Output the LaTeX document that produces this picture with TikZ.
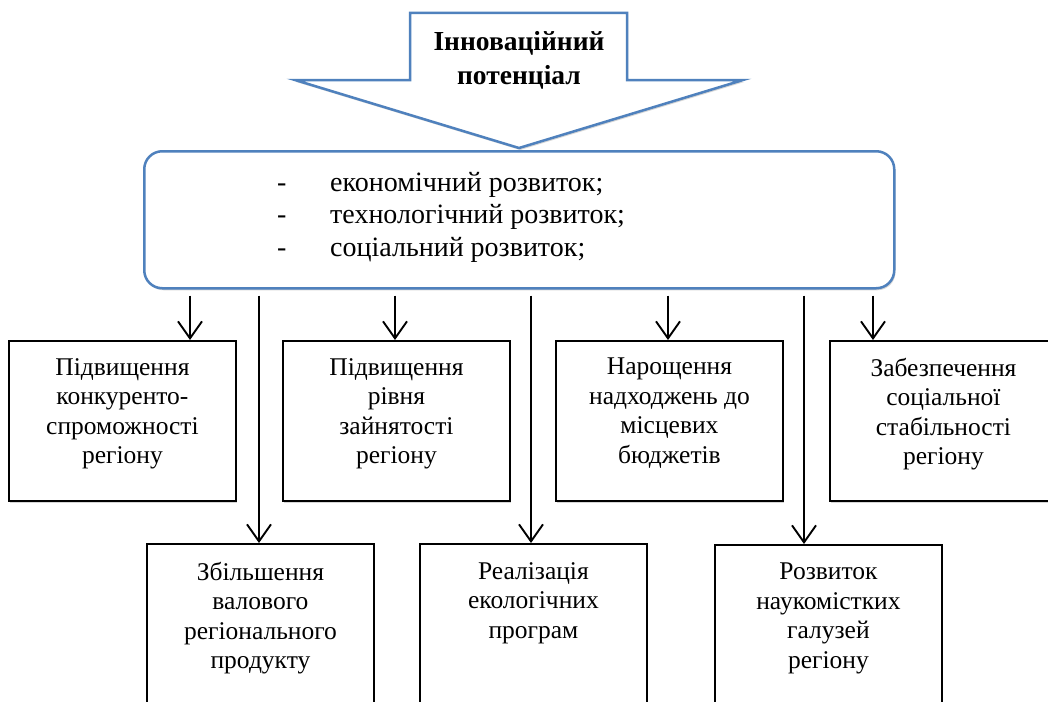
\documentclass[tikz,border=0pt]{standalone}
\usepackage{fontspec}
\setmainfont{Liberation Serif}
\usetikzlibrary{arrows.meta,shadows,calc}
\definecolor{ofblue}{RGB}{79,129,189}
\begin{document}
\begin{tikzpicture}[x=1pt,y=-1pt,
  shd/.style={drop shadow={shadow xshift=1.2pt,shadow yshift=-2pt,fill=black!35,opacity=0.45}},
  bluebox/.style={draw=ofblue,line width=2.5pt,fill=white,shd},
  box/.style={draw=black,line width=1.9pt,fill=white,shd,minimum width=227pt,inner sep=0pt,anchor=north west},
  arr/.style={draw=black,line width=1.9pt,shorten <=6pt,-{Straight Barb[length=17pt,width=24pt,line width=1.9pt]}},
  lbl/.style={anchor=north,align=center,inner sep=0pt,font=\fontsize{25.5}{29.5}\selectfont},
  itm/.style={anchor=base west,inner sep=0pt,font=\fontsize{28}{32}\selectfont},
  ttl/.style={anchor=north,align=center,inner sep=0pt,font=\fontsize{27.5}{34}\selectfont\bfseries}]
\useasboundingbox (0,0) rectangle (1048,701);
\clip (0,0) rectangle (1048,701);
\fill[white] (0,0) rectangle (1048,701);

% big down arrow
\draw[bluebox,line join=miter] (410,13) -- (627,13) -- (627,80) -- (743,80) -- (519,148) -- (295,80) -- (410,80) -- cycle;
\node[ttl] (title) at (519,31) {Інноваційний\\потенціал};

% main rounded box
\node[bluebox,rounded corners=18pt,minimum width=750pt,minimum height=137pt,anchor=north west,inner sep=0pt] (main) at (143,150) {};
\node[itm] (i1) at (277,191) {\makebox[53pt][l]{-}економічний розвиток;};
\node[itm] (i2) at (277,223.5) {\makebox[53pt][l]{-}технологічний розвиток;};
\node[itm] (i3) at (277,256) {\makebox[53pt][l]{-}соціальний розвиток;};

% upper boxes
\node[box,minimum height=160pt] (b1) at (8,340) {};
\node[box,minimum height=160pt] (b2) at (282,340) {};
\node[box,minimum height=160pt] (b3) at (555,340) {};
\node[box,minimum height=160pt] (b4) at (829,340) {};
\node[lbl] (t1) at ($(b1.north)+(0,18)$) {Підвищення\\конкуренто-\\спроможності\\регіону};
\node[lbl] (t2) at ($(b2.north)+(0,18)$) {Підвищення\\рівня\\зайнятості\\регіону};
\node[lbl] (t3) at ($(b3.north)+(0,18)$) {Нарощення\\надходжень до\\місцевих\\бюджетів};
\node[lbl] (t4) at ($(b4.north)+(0,18)$) {Забезпечення\\соціальної\\стабільності\\регіону};

% lower boxes
\node[box,minimum height=180pt] (b5) at (146,543) {};
\node[box,minimum height=180pt] (b6) at (419,543) {};
\node[box,minimum height=180pt] (b7) at (714,544) {};
\node[lbl] (t5) at ($(b5.north)+(0,19)$) {Збільшення\\валового\\регіонального\\продукту};
\node[lbl] (t6) at ($(b6.north)+(0,19)$) {Реалізація\\екологічних\\програм};
\node[lbl] (t7) at ($(b7.north)+(0,19)$) {Розвиток\\наукомістких\\галузей\\регіону};

% arrow end points
\coordinate (e1) at (190,340);
\coordinate (e2) at (395,340);
\coordinate (e3) at (668,340);
\coordinate (e4) at (873,340);
\coordinate (e5) at (259,543);
\coordinate (e6) at (531,543);
\coordinate (e7) at (804,544);

\foreach \e in {e1,e2,e3,e4,e5,e6,e7}
  \draw[arr] (main.south -| \e) -- (\e);
\end{tikzpicture}
\end{document}
